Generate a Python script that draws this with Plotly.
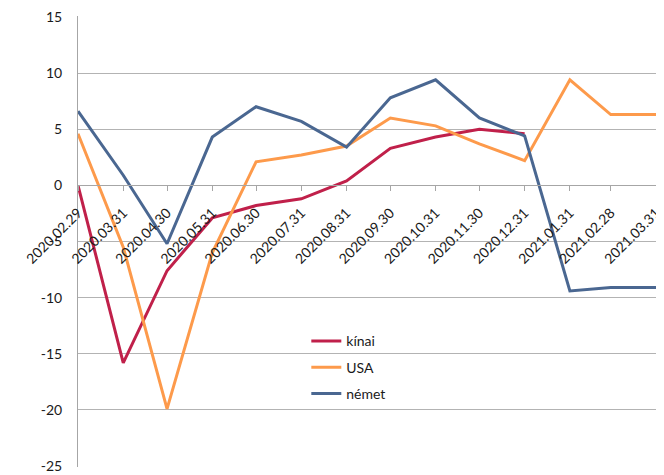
import plotly.graph_objects as go

dates = ["2020-02-29", "2020-03-31", "2020-04-30", "2020-05-31", "2020-06-30",
         "2020-07-31", "2020-08-31", "2020-09-30", "2020-10-31", "2020-11-30",
         "2020-12-31", "2021-01-31", "2021-02-28", "2021-03-31"]
tick_labels = ["2020.02.29", "2020.03.31", "2020.04.30", "2020.05.31", "2020.06.30",
               "2020.07.31", "2020.08.31", "2020.09.30", "2020.10.31", "2020.11.30",
               "2020.12.31", "2021.01.31", "2021.02.28", "2021.03.31"]
y_ticks = [-25, -20, -15, -10, -5, 0, 5, 10, 15]
y_tick_labels = ["-25", "-20", "-15", "-10", "-5", "0", "5", "10", "15"]

kinai = [0.0, -15.8, -7.6, -2.9, -1.8, -1.2, 0.4, 3.3, 4.3, 5.0, 4.6]
usa = [4.6, -5.5, -19.9, -6.0, 2.1, 2.7, 3.5, 6.0, 5.3, 3.7, 2.2, 9.4, 6.3, 6.3]
nemet = [6.6, 0.9, -5.2, 4.3, 7.0, 5.7, 3.4, 7.8, 9.4, 6.0, 4.4, -9.4, -9.1, -9.1]

series = [
    ("kínai", kinai, "#C0204A"),
    ("USA", usa, "#FD9A4B"),
    ("német", nemet, "#4A6791"),
]

fig = go.Figure()
for i, (name, vals, col) in enumerate(series):
    fig.add_trace(go.Scatter(
        x=dates[:len(vals)], y=vals, name=name, mode="lines",
        line=dict(color=col, width=3), legendgroup=f"g{i}",
    ))

pad = 0.08
y_lo, y_hi = y_ticks[0] - pad, y_ticks[-1] + pad
zero_frac = (0 - y_lo) / (y_hi - y_lo)

# page body has an 8px default margin, so the figure is sized to fit the window
fig.update_layout(
    width=656, height=467,
    margin=dict(l=70, r=8, t=8, b=8),
    paper_bgcolor="white", plot_bgcolor="white",
    font=dict(family="Lato, 'Open Sans', sans-serif", size=14, color="#1a1a1a"),
    hovermode=False,
    legend=dict(
        x=0.395, y=0.314, xanchor="left", yanchor="top",
        bgcolor="rgba(0,0,0,0)", font=dict(size=14, color="#1a1a1a"),
        tracegroupgap=5,
    ),
    xaxis=dict(
        type="date",
        range=[dates[0], dates[-1]],
        tickmode="array", tickvals=dates, ticktext=tick_labels,
        tickangle=-45, tickfont=dict(size=14, color="#1a1a1a"),
        showgrid=False, showline=True, linecolor="#A6A6A6", linewidth=1,
        ticks="outside", ticklen=5, tickcolor="#A6A6A6",
        anchor="free", position=zero_frac, zeroline=False, automargin=False,
        ticklabeloverflow="allow", ticklabelstandoff=8,
    ),
    yaxis=dict(
        range=[y_lo, y_hi], tickmode="array", tickvals=y_ticks, ticktext=y_tick_labels,
        showgrid=True, gridcolor="#B3B3B3", gridwidth=1,
        showline=True, linecolor="#A6A6A6", linewidth=1,
        zeroline=False, ticks="", tickfont=dict(size=14, color="#1a1a1a"),
        ticklabelstandoff=12, automargin=False, ticklabeloverflow="allow",
    ),
)

fig.write_html("out.html")
